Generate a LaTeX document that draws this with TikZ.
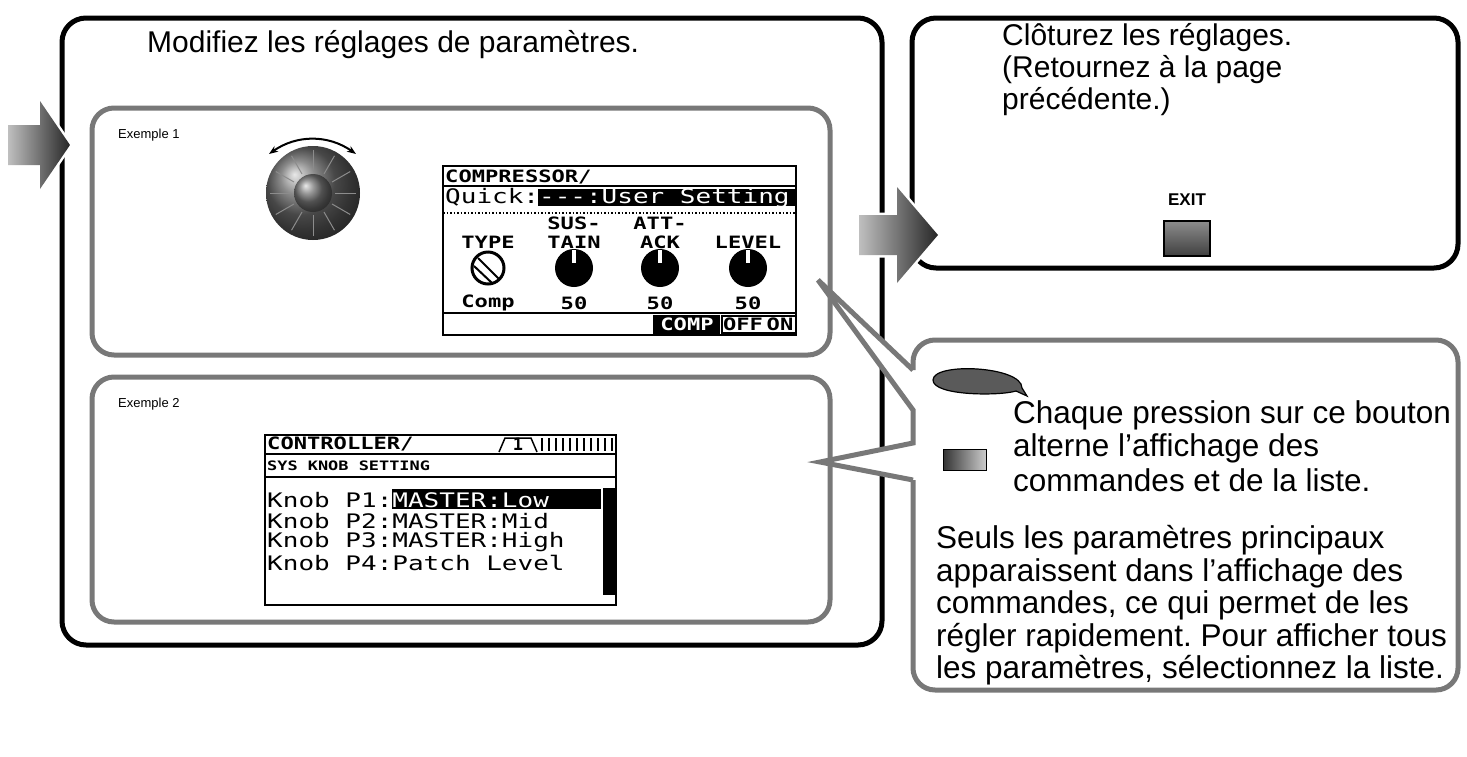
\documentclass[tikz,border=0pt]{standalone}
\usepackage{fontspec}
\setmainfont{Liberation Sans}
\newfontfamily\lcdfont{DejaVu Sans Mono}
\usetikzlibrary{arrows.meta, shapes.geometric}
\definecolor{frame}{RGB}{120,120,120}
\definecolor{dark}{RGB}{90,90,90}
\newcommand{\wide}[1]{\scalebox{1.3}[1]{#1}}
\frenchspacing

\begin{document}
\begin{tikzpicture}
	[x=1pt, y=-1pt,%
	box/.style   ={draw=black,		line width=5pt,	rounded corners=24pt},%
	panel/.style ={draw=frame,		line width=5pt,	rounded corners=22pt},%
	lcd/.style   ={draw=black,		line width=2pt},%
	txt/.style   ={anchor=west,	inner sep=0pt,	font=\fontsize{30}{33}\selectfont},%
	note/.style  ={anchor=west,	inner sep=0pt,	font=\fontsize{31.5}{33}\selectfont},%
	small/.style ={anchor=west,	inner sep=0pt,	font=\fontsize{13}{15}\selectfont},%
	mono/.style  ={inner sep=0pt,	font=\lcdfont\bfseries\fontsize{17}{18}\selectfont},%
	row/.style   ={anchor=west,	inner sep=0pt,	font=\lcdfont\fontsize{20}{21}\selectfont},%
	dial/.style  ={circle,	fill=black,	minimum size=38pt,	inner sep=0pt},%
	]
	\useasboundingbox (0,0) rectangle (1467,756);

	% frames
	\draw [box]   (62,18)   rectangle (882,645);
	\draw [box]   (912,18)  rectangle (1458,268);
	\draw [panel] (92,108)  rectangle (830,355);
	\draw [panel] (92,377)  rectangle (830,622);

	% callout
	\draw [panel, fill=white, rounded corners=0pt]
		(913,370) -- (818,280) -- (913,410) -- (913,443) -- (820,462) -- (913,480);
	\draw [panel] (913,480) -- (913,690) -- (1458,690) -- (1458,340) -- (913,340) -- (913,370);

	% big arrows
	\foreach \xa/\xb/\xc/\ty/\hh in {8/40/70/145/44, 859/897/938/235/48} {
		\draw [white, line width=5pt, line join=miter, fill=white]
			(\xa,\ty-20) -- (\xb,\ty-20) -- (\xb,\ty-\hh) -- (\xc,\ty) -- (\xb,\ty+\hh) -- (\xb,\ty+20) -- (\xa,\ty+20) -- cycle;
		\shade [left color=black!25, right color=black!85]
			(\xa,\ty-20) -- (\xb,\ty-20) -- (\xb,\ty-\hh) -- (\xc,\ty) -- (\xb,\ty+\hh) -- (\xb,\ty+20) -- (\xa,\ty+20) -- cycle;
	}

	% texts
	\node (title)  [txt] at (147,45)   {Modifiez les réglages de paramètres.};
	\node (close1) [txt] at (1002,38)  {Clôturez les réglages.};
	\node (close2) [txt] at (1002,70)  {(Retournez à la page};
	\node (close3) [txt] at (1002,102) {précédente.)};
	\node (ex1)    [small] at (118,135) {Exemple 1};
	\node (ex2)    [small] at (118,404) {Exemple 2};

	% exit button
	\node (exitlbl) [inner sep=0pt, font=\bfseries\fontsize{17}{19}\selectfont] at (1187,200) {EXIT};
	\shade [top color=black!45, bottom color=black!75, draw=black, line width=1.5pt]
		(1164,221) rectangle (1210,256);

	% jog dial
	\shade [ball color=black!60] (313,193) circle (47);
	\foreach \a in {0,30,...,330} \draw [black!45, line width=1pt] (313,193) ++(\a:22) -- ++(\a:21);
	\shade [ball color=black!55] (313,193) circle (19);
	\draw [{Stealth[length=9pt]}-{Stealth[length=9pt]}, line width=2pt] (269,154) to [bend left=35] (356,154);

	% compressor screen
	\draw [lcd] (443,166) rectangle (796,335);
	\node (comp) [mono, anchor=west] at (445,177) {\wide{COMPRESSOR/}};
	\draw [line width=2pt] (443,186) -- (796,186);
	\fill (538,189) rectangle (796,206);
	\node (quick) [row, anchor=west] at (445,198) {\wide{Quick:\textcolor{white}{---:User Setting}}};
	\draw [dotted, line width=1.5pt] (443,213) -- (796,213);
	\foreach \x/\up/\lo/\val in {488//TYPE/Comp, 574/SUS-/TAIN/50, 660/ATT-/ACK/50, 748//LEVEL/50} {
		\node [mono] at (\x,223) {\wide{\up}};
		\node [mono] at (\x,242) {\wide{\lo}};
		\node [mono] at (\x,303) {\wide{\val}};
	}
	\node (type)  [dial, fill=white, draw=black, line width=3pt, minimum size=32pt] at (488,268) {};
	\draw [line width=2pt] (478,258) -- (499,279) (474,266) -- (492,283);
	\foreach \x in {574,660,748} {
		\node [dial] at (\x,268) {};
		\fill [white] (\x-2,250) rectangle (\x+2,263);
	}
	\draw [line width=2pt] (443,313) -- (796,313);
	\fill (653,315) rectangle (720,334);
	\draw [line width=1.5pt] (722,316) rectangle (796,333);
	\node (sw1) [mono, text=white] at (687,324) {\wide{COMP}};
	\node (sw2) [mono] at (743,324) {\wide{OFF}};
	\node (sw3) [mono] at (780,324) {\wide{ON}};

	% controller screen
	\draw [lcd] (265,435) rectangle (616,605);
	\node (ctrl) [mono, anchor=west] at (267,444) {\wide{CONTROLLER/}};
	\node (tab)  [mono] at (518,444) {1};
	\draw [line width=1.5pt] (499,452) -- (505,438) -- (531,438) -- (537,452);
	\foreach \x in {542,549,...,612} \draw [line width=1.5pt] (\x,438) -- (\x,451);
	\draw [line width=2pt] (265,454) -- (616,454);
	\node (sys) [mono, anchor=west, font=\lcdfont\bfseries\fontsize{13}{14}\selectfont] at (267,466) {\wide{SYS KNOB SETTING}};
	\draw [line width=2pt] (265,477) -- (616,477);
	\fill (392,489) rectangle (601,509);
	\fill (603,488) rectangle (615,595);
	\node (p1) [row] at (267,500) {\wide{Knob P1:\textcolor{white}{MASTER:Low}}};
	\node (p2) [row] at (267,521) {\wide{Knob P2:MASTER:Mid}};
	\node (p3) [row] at (267,542) {\wide{Knob P3:MASTER:High}};
	\node (p4) [row] at (267,563) {\wide{Knob P4:Patch Level}};

	% bubble and button icon
	\draw [fill=dark, line width=1.2pt] (1022,388) .. controls (1022,366) and (933,362) .. (933,380) .. controls (933,396) and (1000,396) .. (1016,391) -- (1027,396) -- cycle;
	\shade [left color=black!80, right color=black!20, draw=black, line width=1pt] (943,449) rectangle (986,470);
	\node (tog1) [note] at (1013,415) {Chaque pression sur ce bouton};
	\node (tog2) [note] at (1013,448) {alterne l’affichage des};
	\node (tog3) [note] at (1013,480) {commandes et de la liste.};
	\node (info1) [note] at (936,540) {Seuls les paramètres principaux};
	\node (info2) [note] at (936,573) {apparaissent dans l’affichage des};
	\node (info3) [note] at (936,605) {commandes, ce qui permet de les};
	\node (info4) [note] at (936,638) {régler rapidement. Pour afficher tous};
	\node (info5) [note] at (936,670) {les paramètres, sélectionnez la liste.};

\end{tikzpicture}
\end{document}
